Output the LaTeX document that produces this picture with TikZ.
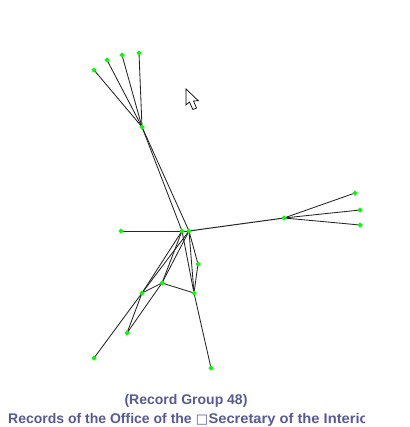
\documentclass[tikz,border=0pt]{standalone}
\usepackage{fontspec}
\setmainfont{Liberation Sans}
\newfontfamily\symfont{DejaVu Sans}
\usetikzlibrary{shapes.geometric,backgrounds}
\definecolor{nodegreen}{RGB}{0,255,0}
\definecolor{captioncol}{RGB}{88,90,150}
\begin{document}
\begin{tikzpicture}[x=1pt,y=-1pt,
  vtx/.style={shape=diamond,fill=nodegreen,inner sep=0pt,minimum size=5.5pt},
  link/.style={draw=black!85,line width=0.85pt},
  caption/.style={font=\bfseries\fontsize{14}{16}\selectfont,text=captioncol,inner sep=0pt,anchor=base}]
\useasboundingbox (0,0) rectangle (409,427);
% top cluster
\node[vtx] (T) at (142,127) {};
\node[vtx] (t1) at (94,70) {};
\node[vtx] (t2) at (107,60) {};
\node[vtx] (t3) at (122,55) {};
\node[vtx] (t4) at (139,53) {};
% centre
\node[vtx] (c1) at (182,231) {};
\node[vtx] (c2) at (189,231) {};
\node[vtx] (L) at (121,231) {};
% right cluster
\node[vtx] (R) at (284,218) {};
\node[vtx] (r1) at (355,193) {};
\node[vtx] (r2) at (360,210) {};
\node[vtx] (r3) at (360,225) {};
% lower
\node[vtx] (A) at (198,264) {};
\node[vtx] (B) at (162,283) {};
\node[vtx] (D) at (194,293) {};
\node[vtx] (E) at (142,293) {};
\node[vtx] (F) at (127,333) {};
\node[vtx] (G) at (94,358) {};
\node[vtx] (H) at (211,368) {};
\begin{scope}[on background layer]
\fill[white] (0,0) rectangle (409,427);
\foreach \a in {t1,t2,t3,t4} \draw[link] (\a.center) -- (T.center);
\draw[link] (T.center) -- (c1.center);
\draw[link] (T.center) -- (c2.center);
\draw[link] (L.center) -- (c1.center);
\draw[link] (c1.center) -- (c2.center);
\draw[link,line width=1pt] (c2.center) -- (R.center);
\foreach \a in {r1,r2,r3} \draw[link] (R.center) -- (\a.center);
\draw[link] (c2.center) -- (A.center);
\draw[link] (A.center) -- (D.center);
\draw[link] (c1.center) -- (D.center);
\draw[link] (c2.center) -- (D.center);
\draw[link] (c1.center) -- (B.center);
\draw[link] (c2.center) -- (B.center);
\draw[link] (c1.center) -- (E.center);
\draw[link] (c2.center) -- (E.center);
\draw[link] (B.center) -- (E.center);
\draw[link] (B.center) -- (D.center);
\draw[link] (E.center) -- (F.center);
\draw[link] (B.center) -- (F.center);
\draw[link] (E.center) -- (G.center);
\draw[link] (D.center) -- (H.center);
\end{scope}
% cursor
\draw[fill=white,draw=black,line width=0.7pt,line join=miter]
  (186,89) -- (186,105) -- (189.5,102) -- (192.8,109.5) -- (196.5,108) -- (193.5,101) -- (198.3,100.7) -- cycle;
% caption
\node[caption] (cap1) at (186,404) {(Record Group 48)};
\begin{scope}
\clip (0,406) rectangle (364,427);
\node[caption,anchor=base west] (cap2) at (8,423) {Records of the Office of the\hspace{4pt}{\symfont\fontsize{13}{14}\selectfont □}\hspace{0.5pt}\scalebox{1.05}[1]{Secretary of the Interior}};
\end{scope}
\end{tikzpicture}
\end{document}
